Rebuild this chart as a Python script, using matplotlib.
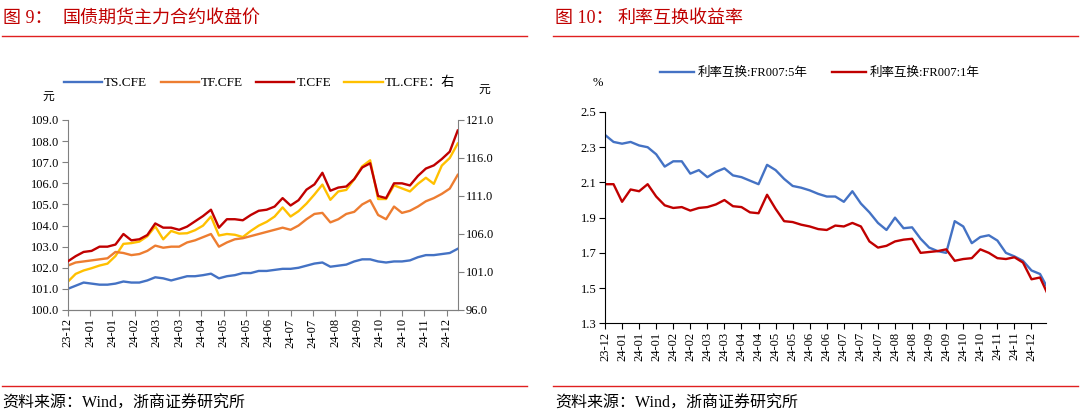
import numpy as np
import matplotlib
matplotlib.use("Agg")
import matplotlib.pyplot as plt

plt.rcParams['font.family'] = ['Liberation Serif', 'Noto Sans CJK SC', 'DejaVu Sans']
plt.rcParams['axes.unicode_minus'] = False

# ---- left chart: treasury futures close (one point every 5 trading days) ----
ts_cfe = [101.0, 101.15, 101.3, 101.25, 101.2, 101.2, 101.25, 101.35, 101.3, 101.3,
          101.4, 101.55, 101.5, 101.4, 101.5, 101.6, 101.6, 101.65, 101.72, 101.5,
          101.6, 101.65, 101.75, 101.75, 101.85, 101.85, 101.9, 101.95, 101.95, 102.0,
          102.1, 102.2, 102.25, 102.05, 102.1, 102.15, 102.3, 102.4, 102.4, 102.3,
          102.25, 102.3, 102.3, 102.35, 102.5, 102.6, 102.6, 102.65, 102.7, 102.9]
tf_cfe = [102.1, 102.25, 102.3, 102.35, 102.4, 102.45, 102.75, 102.7, 102.6, 102.65,
          102.8, 103.05, 102.95, 103.0, 103.0, 103.2, 103.3, 103.45, 103.6, 103.0,
          103.2, 103.35, 103.4, 103.5, 103.6, 103.7, 103.8, 103.9, 103.8, 104.0,
          104.3, 104.55, 104.6, 104.15, 104.3, 104.55, 104.65, 105.0, 105.2, 104.5,
          104.3, 104.9, 104.6, 104.7, 104.9, 105.15, 105.3, 105.5, 105.75, 106.4]
t_cfe = [102.3, 102.55, 102.75, 102.8, 103.0, 103.0, 103.1, 103.6, 103.3, 103.35,
         103.55, 104.1, 103.9, 103.9, 103.8, 103.95, 104.2, 104.45, 104.75, 103.9,
         104.3, 104.3, 104.25, 104.5, 104.7, 104.75, 104.9, 105.3, 104.95, 105.2,
         105.7, 105.95, 106.5, 105.65, 105.8, 105.85, 106.2, 106.75, 106.95, 105.4,
         105.3, 106.0, 106.0, 105.9, 106.35, 106.7, 106.85, 107.15, 107.5, 108.5]
tl_cfe = [99.7, 100.75, 101.2, 101.5, 101.85, 102.1, 103.1, 104.7, 104.8, 105.0,
          105.7, 107.0, 105.3, 106.4, 106.05, 106.1, 106.5, 107.1, 108.3, 105.8,
          106.0, 105.9, 105.6, 106.4, 107.1, 107.6, 108.3, 109.5, 108.3, 109.0,
          110.0, 111.2, 112.5, 110.5, 111.6, 111.8, 113.2, 114.9, 115.7, 110.6,
          110.6, 112.4, 112.0, 111.6, 112.6, 113.4, 112.6, 115.0, 116.0, 117.9]
left_labels = ['23-12', '24-01', '24-01', '24-02', '24-03', '24-03', '24-04', '24-05', '24-05',
               '24-06', '24-07', '24-07', '24-08', '24-09', '24-10', '24-10', '24-11', '24-12']

# ---- right chart: IRS FR007 (one point every 5 trading days) ----
irs_5y = [2.37, 2.33, 2.32, 2.33, 2.31, 2.30, 2.26, 2.19, 2.22, 2.22,
          2.15, 2.17, 2.13, 2.16, 2.18, 2.14, 2.13, 2.11, 2.09, 2.20,
          2.17, 2.12, 2.08, 2.07, 2.055, 2.035, 2.02, 2.02, 1.99, 2.05,
          1.98, 1.93, 1.87, 1.83, 1.90, 1.84, 1.845, 1.78, 1.73, 1.71,
          1.70, 1.88, 1.85, 1.755, 1.79, 1.80, 1.77, 1.70, 1.68, 1.655,
          1.60, 1.58, 1.49]
irs_1y = [2.09, 2.09, 1.99, 2.06, 2.05, 2.09, 2.02, 1.97, 1.955, 1.96,
          1.94, 1.955, 1.96, 1.975, 2.0, 1.965, 1.96, 1.93, 1.925, 2.03,
          1.95, 1.88, 1.875, 1.86, 1.85, 1.835, 1.83, 1.855, 1.85, 1.87,
          1.85, 1.765, 1.73, 1.74, 1.765, 1.775, 1.78, 1.70, 1.705, 1.71,
          1.72, 1.655, 1.665, 1.67, 1.72, 1.70, 1.67, 1.665, 1.675, 1.645,
          1.55, 1.56, 1.455]
right_labels = ['23-12', '24-01', '24-01', '24-01', '24-02', '24-02', '24-03', '24-03', '24-04',
                '24-04', '24-05', '24-05', '24-06', '24-06', '24-07', '24-07', '24-07', '24-08',
                '24-08', '24-09', '24-09', '24-10', '24-10', '24-11', '24-11', '24-12']

BLUE = '#4472C4'
ORANGE = '#ED7D31'
DRED = '#C00000'
YELLOW = '#FFC000'
TITLE_RED = '#C00000'
RULE_RED = '#E02020'

fig = plt.figure(figsize=(10.8, 4.18), dpi=100)

# headers / footers
fig.text(3 / 1080, 1 - 18 / 418, '图 9：', color=TITLE_RED, fontsize=13, va='center')
fig.text(62 / 1080, 1 - 18 / 418, '国债期货主力合约收盘价', color=TITLE_RED, fontsize=13,
         va='center', family=['Noto Sans CJK SC'])
fig.text(555 / 1080, 1 - 18 / 418, '图 10：', color=TITLE_RED, fontsize=13, va='center')
fig.text(617 / 1080, 1 - 18 / 418, '利率互换收益率', color=TITLE_RED, fontsize=13,
         va='center', family=['Noto Sans CJK SC'])
for x0, x1 in [(2, 527), (553, 1078)]:
    for yy in (36, 386):
        fig.lines.append(plt.Line2D([x0 / 1080, x1 / 1080], [1 - yy / 418, 1 - yy / 418],
                                    transform=fig.transFigure, color=RULE_RED, lw=1.0))
fig.text(2 / 1080, 1 - 404 / 418, '资料来源：Wind，浙商证券研究所', fontsize=11.5, va='center')
fig.text(555 / 1080, 1 - 404 / 418, '资料来源：Wind，浙商证券研究所', fontsize=11.5, va='center')

# ---- left axes ----
ax = fig.add_axes([67.7 / 1080, 1 - 310 / 418, 390 / 1080, 190 / 418])
ax2 = ax.twinx()
xl = np.arange(len(ts_cfe))
h1, = ax.plot(xl, ts_cfe, color=BLUE, lw=1.7, label='TS.CFE')
h2, = ax.plot(xl, tf_cfe, color=ORANGE, lw=1.7, label='TF.CFE')
h3, = ax.plot(xl, t_cfe, color=DRED, lw=1.7, label='T.CFE', zorder=3)
h4, = ax2.plot(xl, tl_cfe, color=YELLOW, lw=1.7, label='TL.CFE：右')
ax.set_zorder(ax2.get_zorder() + 1)
ax.patch.set_visible(False)
ax.set_ylim(100, 109)
ax.set_yticks(np.arange(100, 109.1, 1))
ax.set_yticklabels([f'{v:.1f}' for v in np.arange(100, 109.1, 1)])
ax2.set_ylim(96, 121)
ax2.set_yticks(np.arange(96, 121.1, 5))
ax2.set_yticklabels([f'{v:.1f}' for v in np.arange(96, 121.1, 5)])
ax.set_xlim(0, 49)
ax.set_xticks(np.arange(len(left_labels)) * 2.8)
ax.set_xticklabels(left_labels, rotation=90)
for a in (ax, ax2):
    a.spines['top'].set_visible(False)
    for s in ('left', 'right', 'bottom'):
        a.spines[s].set_color('#808080')
    a.tick_params(direction='out', length=4, width=0.8, color='#808080', labelsize=9, pad=2)
ax2.spines['left'].set_visible(False)
ax.spines['right'].set_visible(False)
fig.text(48 / 1080, 1 - 97 / 418, '元', fontsize=8.5, ha='center', va='center')
fig.text(484 / 1080, 1 - 90 / 418, '元', fontsize=8.5, ha='center', va='center')
fig.legend(handles=[h1, h2, h3, h4], loc='center left', bbox_to_anchor=(64 / 1080, 1 - 83 / 418),
           ncol=4, frameon=False, fontsize=9.5, handlelength=2.9, handletextpad=0.15,
           columnspacing=1.0, borderpad=0, borderaxespad=0)

# ---- right axes ----
bx = fig.add_axes([605 / 1080, 1 - 323.3 / 418, 441 / 1080, 211.3 / 418])
xr = np.arange(len(irs_5y))
g1, = bx.plot(xr, irs_5y, color=BLUE, lw=1.7, label='利率互换:FR007:5年')
g2, = bx.plot(xr, irs_1y, color=DRED, lw=1.7, label='利率互换:FR007:1年')
bx.set_ylim(1.3, 2.5)
bx.set_yticks(np.arange(1.3, 2.51, 0.2))
bx.set_yticklabels([f'{v:.1f}' for v in np.arange(1.3, 2.51, 0.2)])
bx.set_xlim(0, 51.7)
bx.set_xticks(np.arange(len(right_labels)) * 2)
bx.set_xticklabels(right_labels, rotation=90)
bx.spines['top'].set_visible(False)
bx.spines['right'].set_visible(False)
bx.tick_params(direction='out', length=4, width=0.8, labelsize=9, pad=2)
fig.text(598 / 1080, 1 - 83 / 418, '%', fontsize=9, ha='center', va='center')
fig.legend(handles=[g1, g2], loc='center left', bbox_to_anchor=(660 / 1080, 1 - 73 / 418),
           ncol=2, frameon=False, fontsize=9, handlelength=2.7, handletextpad=0.3,
           columnspacing=2.0, borderpad=0, borderaxespad=0)

fig.savefig('out.png', dpi=100)
